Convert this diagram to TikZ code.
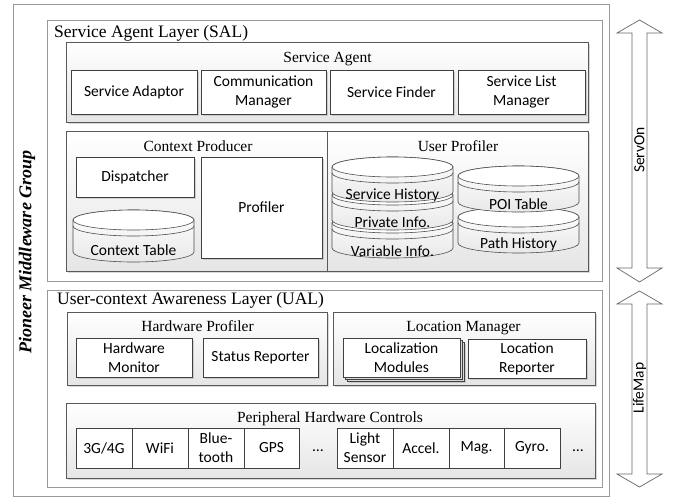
\documentclass[tikz,border=0pt]{standalone}
\usepackage{fontspec}
\setmainfont{Liberation Serif}
\newfontfamily\calfont{Carlito}
\usetikzlibrary{shadows}

% box given by its corners (x1,y1) (x2,y2), y measured downwards
\newcommand\bx[7]{%
  \node[#1, inner sep=0pt, minimum width={#5-#3}, minimum height={#6-#4}]
    (#2) at ({(#3+#5)/2},{-(#4+#6)/2}) {#7};}

% database cylinder: name, x1, x2, ytop, ybottom, label y, label
\newcommand\dbcyl[7]{%
  \path[cylbody] ({#2},{-(#4+10)}) -- ({#2},{-(#5-10)})
     arc[start angle=180, end angle=360, x radius={(#3-#2)/2}, y radius=10]
     -- ({#3},{-(#4+10)})
     arc[start angle=0, end angle=180, x radius={(#3-#2)/2}, y radius=10] -- cycle;
  \path[cyltop] ({(#2+#3)/2},{-(#4+10)}) ellipse[x radius={(#3-#2)/2}, y radius=10];
  \draw[cylline] ({#2},{-(#4+16)})
     arc[start angle=180, end angle=360, x radius={(#3-#2)/2}, y radius=10];
  \node[lbl] (#1) at ({(#2+#3)/2},{-#6}) {#7};}

\tikzset{
  x=1pt, y=1pt,
  lbl/.style={font={\calfont\fontsize{15.5}{19}\selectfont}, align=center, inner sep=0pt},
  layer/.style={draw=gray!80, fill=white, line width=0.8pt},
  group/.style={draw=gray!70!black, line width=0.7pt, top color=white, bottom color=gray!20,
    drop shadow={shadow xshift=2pt, shadow yshift=-2pt, opacity=0.3}},
  item/.style={lbl, draw=black!75, fill=white, line width=0.7pt,
    drop shadow={shadow xshift=1.5pt, shadow yshift=-1.5pt, opacity=0.3}},
  cell/.style={lbl, draw=black!75, fill=white, line width=0.7pt},
  cylbody/.style={draw=black!70, line width=0.6pt, top color=white, bottom color=gray!18},
  cyltop/.style={draw=black!70, line width=0.6pt, fill=white},
  cylline/.style={draw=black!70, line width=0.6pt},
  title/.style={font={\fontsize{17.5}{21}\selectfont}, inner sep=0pt},
  subtitle/.style={font={\fontsize{15.5}{18}\selectfont}, inner sep=0pt},
  flow/.style={draw=gray!80!black, fill=white, line width=0.7pt},
}

\begin{document}
\begin{tikzpicture}
\useasboundingbox (0,0) rectangle (675,-498);

% frame and the two layers
\bx{layer}{frame}{13}{4}{609}{496}{}
\bx{layer}{sal}{47}{20}{602}{281}{}
\bx{layer}{ual}{47}{290}{602}{487}{}
\node[title, anchor=base west] (saltitle) at (54,-37.5) {Service Agent Layer (SAL)};
\node[title, anchor=base west] (ualtitle) at (57,-304) {User-context Awareness Layer (UAL)};

% group name
\node[rotate=90, inner sep=0pt, font={\bfseries\itshape\fontsize{18}{22}\selectfont}] (pmg) at (27,-252) {Pioneer Middleware Group};

% Service Agent
\bx{group}{sagent}{66}{42}{588}{122}{}
\node[subtitle, anchor=base] (sagenttitle) at (327.5,-62) {Service Agent};
\bx{item}{adaptor}{71}{70}{197}{114}{Service Adaptor}
\bx{item}{commmgr}{201}{70}{326}{114}{Communication\\Manager}
\bx{item}{finder}{330}{70}{453}{114}{Service Finder}
\bx{item}{listmgr}{458}{70}{585}{114}{Service List\\Manager}

% Context Producer | User Profiler
\bx{group}{cu}{66}{131}{588}{271}{}
\draw[draw=gray!70!black, line width=0.7pt] (327.5,-131) -- (327.5,-271);
\node[subtitle, anchor=base] (cptitle) at (198,-151) {Context Producer};
\node[subtitle, anchor=base] (uptitle) at (458,-151) {User Profiler};
\bx{item}{dispatcher}{76}{157}{194}{197}{Dispatcher}
\bx{item}{profiler}{201}{157}{322}{258}{Profiler}
\dbcyl{ctxtable}{73}{194}{210}{262}{250}{Context Table}
\dbcyl{varinfo}{332}{453}{213}{258}{251}{Variable Info.}
\dbcyl{privinfo}{332}{453}{185}{230}{222}{Private Info.}
\dbcyl{svchist}{332}{453}{157}{202}{195}{Service History}
\dbcyl{pathhist}{458}{579}{207}{253}{244}{Path History}
\dbcyl{poitable}{458}{579}{166}{212}{204}{POI Table}

% Hardware Profiler
\bx{group}{hwprof}{67}{312}{327}{385}{}
\node[subtitle, anchor=base] (hwtitle) at (197.5,-331.5) {Hardware Profiler};
\bx{item}{hwmon}{76}{338}{192}{377}{Hardware\\Monitor}
\bx{item}{status}{203}{338}{318}{377}{Status Reporter}

% Location Manager
\bx{group}{locmgr}{333}{312}{595}{385}{}
\node[subtitle, anchor=base] (lmtitle) at (463.5,-331) {Location Manager};
\bx{item}{locmodb}{347}{342}{464}{381}{}
\bx{item}{locmoda}{345}{340}{462}{379}{}
\bx{item}{locmod}{343}{338}{460}{377}{Localization\\Modules}
\bx{item}{locrep}{468}{339}{586}{378}{Location\\Reporter}

% Peripheral Hardware Controls
\bx{group}{periph}{66}{403}{595}{478}{}
\node[subtitle, anchor=base] (phtitle) at (330,-422) {Peripheral Hardware Controls};
\bx{cell}{g34}{76}{428}{132}{468}{3G/4G}
\bx{cell}{wifi}{132}{428}{188}{468}{WiFi}
\bx{cell}{bt}{188}{428}{244}{468}{Blue-\\tooth}
\bx{cell}{gps}{244}{428}{299}{468}{GPS}
\node[lbl, anchor=base] (dotsa) at (318,-451) {…};
\bx{cell}{light}{337}{428}{393}{468}{Light\\Sensor}
\bx{cell}{accel}{393}{428}{449}{468}{Accel.}
\bx{cell}{mag}{449}{428}{504}{468}{Mag.}
\bx{cell}{gyro}{504}{428}{560}{468}{Gyro.}
\node[lbl, anchor=base] (dotsb) at (578,-451) {…};

% double arrows beside the layers
\path[flow] (639.5,-20) -- (662,-33) -- (647,-33) -- (647,-268) -- (662,-268)
  -- (639.5,-282) -- (617,-268) -- (632,-268) -- (632,-33) -- (617,-33) -- cycle;
\node[lbl, rotate=90] (servon) at (639.5,-150) {ServOn};
\path[flow] (639.5,-291) -- (662,-304) -- (647,-304) -- (647,-474) -- (662,-474)
  -- (639.5,-487) -- (617,-474) -- (632,-474) -- (632,-304) -- (617,-304) -- cycle;
\node[lbl, rotate=90] (lifemap) at (639.5,-388) {LifeMap};
\end{tikzpicture}
\end{document}
